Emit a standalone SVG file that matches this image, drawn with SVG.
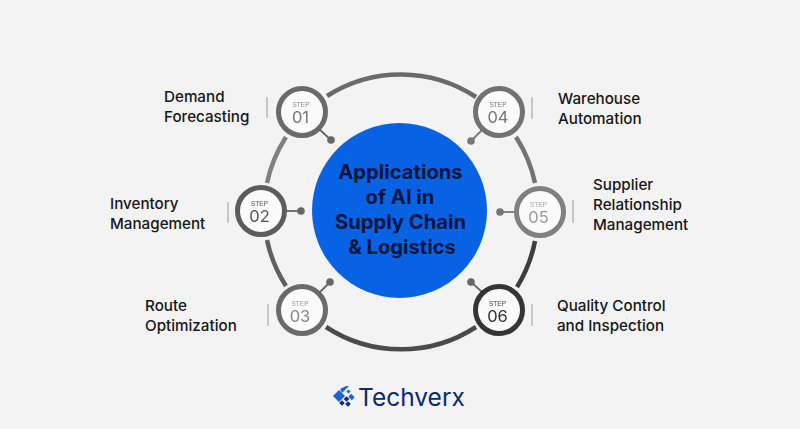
<svg xmlns="http://www.w3.org/2000/svg" width="800" height="429" viewBox="0 0 800 429">
<defs>
<filter id="soft" x="-20%" y="-20%" width="140%" height="140%"><feGaussianBlur stdDeviation="0.5"/></filter>
</defs>
<style>
.arc{fill:none;stroke-width:4.500}
.ring{fill:#fbfbfb;stroke-width:5}
.stem{stroke-width:1.800}
.tick{stroke:#b9b9b9;stroke-width:1.500}
.step{font:500 6.500px "Liberation Sans",sans-serif;text-anchor:middle}
.num{font:400 16.500px Inter,"Liberation Sans",sans-serif;text-anchor:middle}
.lab{font:500 15.200px Inter,"Liberation Sans",sans-serif;fill:#161616}
.title{font:700 20.200px Inter,"Liberation Sans",sans-serif;fill:#03153c;text-anchor:middle}
</style>
<rect width="800" height="429" fill="#f3f3f3"/>
<g id="connectors" filter="url(#soft)">
<path class="arc" stroke="#6b6b6b" d="M327 96A137 137 0 0 1 476 97"/>
<path class="arc" stroke="#808080" d="M286 137A137 137 0 0 0 267 183"/>
<path class="arc" stroke="#606060" d="M267 240A137 137 0 0 0 286 286"/>
<path class="arc" stroke="#4c4c4c" d="M326 327A137 137 0 0 0 476 327"/>
<path class="arc" stroke="#737373" d="M516 137A137 137 0 0 1 535 183"/>
<path class="arc" stroke="#3c3c3c" d="M535 241A137 137 0 0 1 517 287"/>
</g>
<g id="center"><circle cx="399.500" cy="210.500" r="87.500" fill="#0762e4"/>
<text class="title" x="400.500" y="179">Applications</text>
<text class="title" x="400" y="204">of AI in</text>
<text class="title" x="400.500" y="229">Supply Chain</text>
<text class="title" x="402" y="254">&amp; Logistics</text></g>
<g id="node-01" filter="url(#soft)"><line class="tick" x1="267" y1="97" x2="267" y2="118"/><line class="stem" stroke="#666" x1="319" y1="129" x2="331" y2="140"/><circle cx="331" cy="140" r="3.800" fill="#666"/><circle class="ring" stroke="#6a6a6a" cx="302" cy="112" r="23.500"/><text class="step" fill="#8a8a8a" x="301" y="107">STEP</text><text class="num" fill="#777" x="300.500" y="123">01</text></g>
<g id="node-02" filter="url(#soft)"><line class="tick" x1="228" y1="202" x2="228" y2="223"/><line class="stem" stroke="#666" x1="284" y1="211" x2="301" y2="211"/><circle cx="301" cy="211" r="3.800" fill="#666"/><circle class="ring" stroke="#5c5c5c" cx="261" cy="211" r="23.500"/><text class="step" fill="#555" x="259.500" y="206">STEP</text><text class="num" fill="#555" x="259.500" y="222">02</text></g>
<g id="node-03" filter="url(#soft)"><line class="tick" x1="268" y1="304" x2="268" y2="326"/><line class="stem" stroke="#666" x1="319" y1="293" x2="330" y2="282"/><circle cx="330" cy="282" r="3.800" fill="#666"/><circle class="ring" stroke="#6a6a6a" cx="302" cy="310" r="23.500"/><text class="step" fill="#999" x="300" y="305.500">STEP</text><text class="num" fill="#888" x="300" y="322">03</text></g>
<g id="node-04" filter="url(#soft)"><line class="tick" x1="532" y1="97" x2="532" y2="119"/><line class="stem" stroke="#777" x1="482" y1="130" x2="471" y2="141"/><circle cx="471" cy="141" r="3.800" fill="#777"/><circle class="ring" stroke="#727272" cx="499" cy="112" r="23.500"/><text class="step" fill="#777" x="498" y="107">STEP</text><text class="num" fill="#777" x="498" y="123">04</text></g>
<g id="node-05" filter="url(#soft)"><line class="tick" x1="573" y1="200" x2="573" y2="223"/><line class="stem" stroke="#777" x1="517" y1="212" x2="500" y2="212"/><circle cx="500" cy="212" r="3.800" fill="#777"/><circle class="ring" stroke="#808080" cx="540" cy="212" r="23.500"/><text class="step" fill="#a5a5a5" x="538.500" y="207">STEP</text><text class="num" fill="#999" x="538.500" y="223">05</text></g>
<g id="node-06" filter="url(#soft)"><line class="tick" x1="532" y1="304" x2="532" y2="326"/><line class="stem" stroke="#666" x1="482" y1="292" x2="471" y2="282"/><circle cx="471" cy="282" r="3.800" fill="#666"/><circle class="ring" stroke="#363636" cx="499" cy="310" r="23.500"/><text class="step" fill="#444" x="497.500" y="305.500">STEP</text><text class="num" fill="#333" x="497.500" y="322">06</text></g>
<g id="labels">
<text class="lab" x="164" y="102">Demand</text><text class="lab" x="164" y="122">Forecasting</text>
<text class="lab" x="110" y="209">Inventory</text><text class="lab" x="110" y="229">Management</text>
<text class="lab" x="145" y="311">Route</text><text class="lab" x="145" y="331">Optimization</text>
<text class="lab" x="558" y="104">Warehouse</text><text class="lab" x="558" y="124">Automation</text>
<text class="lab" x="593" y="190">Supplier</text><text class="lab" x="593" y="210">Relationship</text><text class="lab" x="593" y="230">Management</text>
<text class="lab" x="557" y="311">Quality Control</text><text class="lab" x="557" y="331">and Inspection</text>
</g>
<g id="logo">
<g fill="#1a63d8"><path d="M333 396l6-6 6 6-6 6z"/><path d="M340 389l6-3 3 0-7 7z"/><path d="M347 390l3 0 0 3-3 0z" transform="rotate(45 348.500 391.500)"/><path d="M349 395l5 0 0 4-5 0z" transform="rotate(45 351.500 397)"/></g>
<g fill="#0d2f78"><rect x="344.500" y="397" width="4" height="4" transform="rotate(45 346.500 399)"/><rect x="340" y="401" width="4" height="4" transform="rotate(45 342 403)"/><rect x="346" y="402" width="4" height="4" transform="rotate(45 348 404)"/></g>
<text x="358" y="406" style="font:400 24.500px Inter,'Liberation Sans',sans-serif;fill:#0c2a70">Techverx</text>
</g>
</svg>
